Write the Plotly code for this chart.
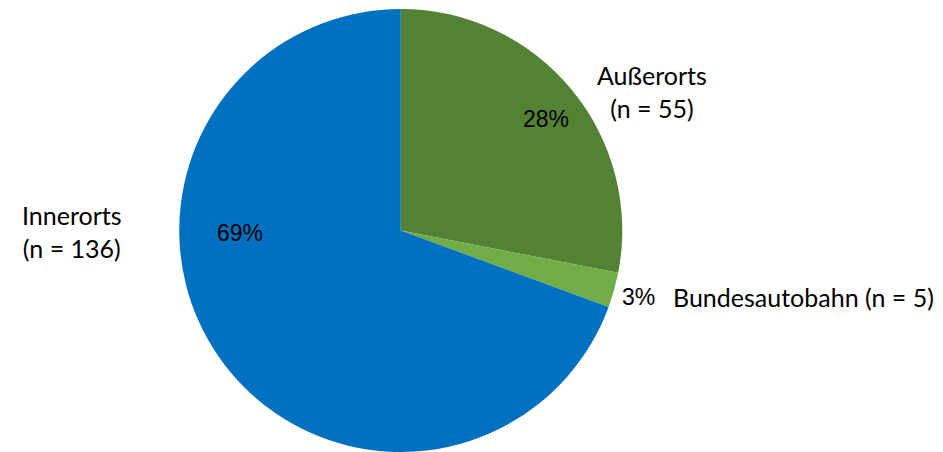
import plotly.graph_objects as go

# Unfälle nach Ortslage
KATEGORIEN = ["Außerorts", "Bundesautobahn", "Innerorts"]
ANZAHL = [55, 5, 136]
FARBEN = ["#548235", "#70AD47", "#0070C0"]
BESCHRIFTUNG = ["Außerorts<br>(n = 55)", "Bundesautobahn (n = 5)", "Innerorts<br>(n = 136)"]

W, H = 943, 452
OFF = 8          # Seitenrand des Browsers
T, B = 1, 8
gesamt = sum(ANZAHL)
prozente = [f"{round(v / gesamt * 100)}%" for v in ANZAHL]


def px2paper(px_, py_):
    return (px_ - OFF) / W, 1 - (py_ - OFF - T) / (H - T - B)


fig = go.Figure(go.Pie(
    labels=KATEGORIEN,
    values=ANZAHL,
    marker=dict(colors=FARBEN, line=dict(width=0)),
    sort=False,
    direction="clockwise",
    rotation=0,
    textinfo="none",
    hoverinfo="label+value+percent",
    domain=dict(x=[0.181, 0.652], y=[0, 1]),
))

# Positionen der Beschriftungen (Pixel)
pos_prozent = [(546, 119), (638, 297), (240, 233)]
pos_label = [(652, 91, "center"), (671, 297, "left"), (72, 232, "center")]

for txt, (px_, py_) in zip(prozente, pos_prozent):
    x, y = px2paper(px_, py_)
    fig.add_annotation(x=x, y=y, xref="paper", yref="paper",
                       text=txt, showarrow=False, xanchor="center", yanchor="middle",
                       font=dict(family="Liberation Sans, Arial", size=23, color="#000000"))

for txt, (px_, py_, al) in zip(BESCHRIFTUNG, pos_label):
    x, y = px2paper(px_, py_)
    fig.add_annotation(x=x, y=y, xref="paper", yref="paper",
                       text=txt, showarrow=False, align=al,
                       xanchor="left" if al == "left" else "center", yanchor="middle",
                       font=dict(family="Lato, Open Sans", size=25, color="#000000"))

fig.update_layout(
    width=W, height=H,
    margin=dict(l=0, r=0, t=T, b=B),
    paper_bgcolor="white",
    showlegend=False,
)

fig.write_html("out.html")
